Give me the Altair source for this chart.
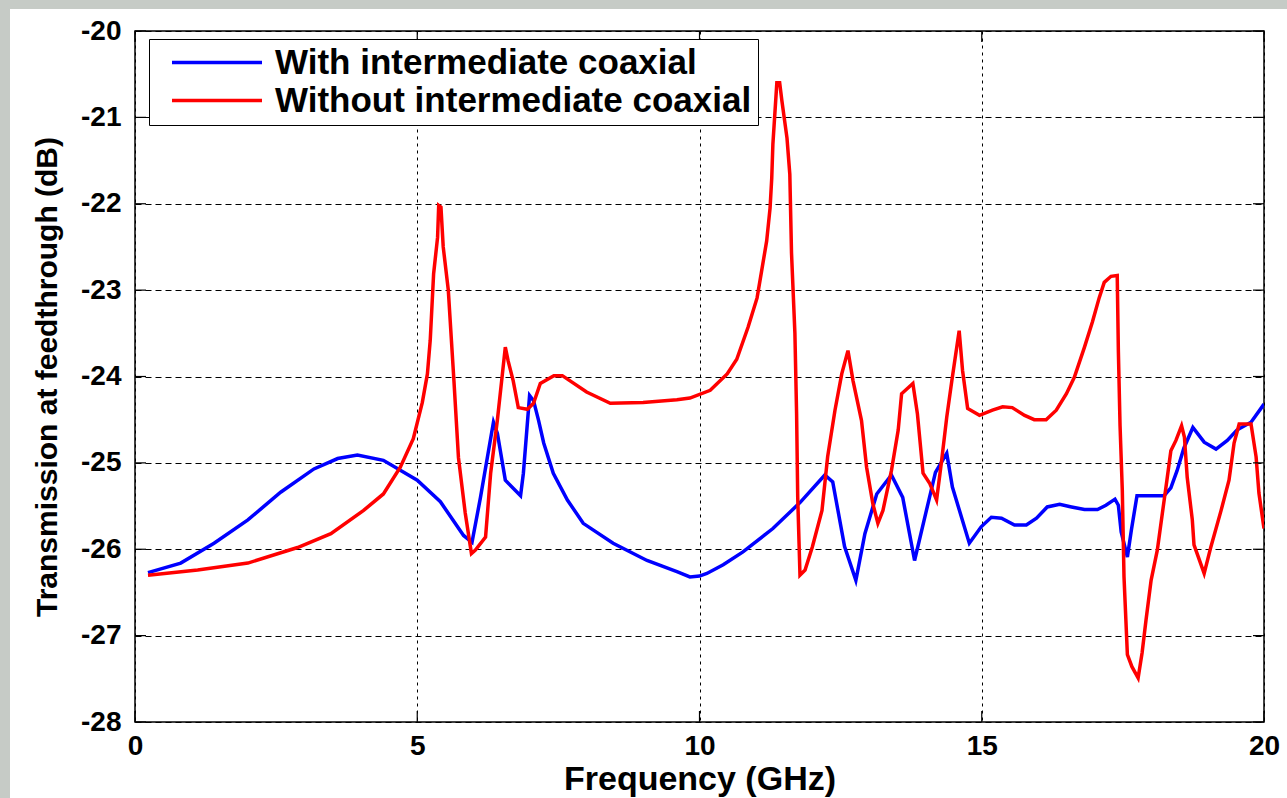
import altair as alt
import pandas as pd

# Transmission through the feedthrough, with the intermediate coaxial section
with_freq = [0.23, 0.81, 1.4, 2.0, 2.58, 3.17, 3.59, 3.94, 4.4, 5.0, 5.41, 5.82, 5.97,
             6.12, 6.35, 6.42, 6.56, 6.83, 6.88, 6.99, 7.06, 7.15, 7.24, 7.41, 7.66,
             7.94, 8.47, 9.07, 9.6, 9.83, 10.0, 10.13, 10.42, 10.77, 11.3, 11.78, 12.22,
             12.36, 12.57, 12.77, 12.93, 13.14, 13.4, 13.6, 13.81, 14.02, 14.18, 14.38,
             14.48, 14.78, 14.99, 15.17, 15.35, 15.58, 15.79, 15.97, 16.16, 16.38,
             16.59, 16.82, 17.05, 17.2, 17.36, 17.42, 17.47, 17.58, 17.65, 17.75,
             18.05, 18.23, 18.35, 18.46, 18.58, 18.74, 18.94, 19.15, 19.35, 19.52,
             19.77, 20.0]
with_db = [-26.27, -26.16, -25.93, -25.66, -25.34, -25.07, -24.95, -24.91, -24.97, -25.2,
           -25.45, -25.84, -25.92, -25.4, -24.53, -24.66, -25.2, -25.38, -25.12, -24.22,
           -24.28, -24.51, -24.77, -25.12, -25.43, -25.7, -25.93, -26.13, -26.26, -26.32,
           -26.31, -26.28, -26.18, -26.03, -25.76, -25.46, -25.14, -25.22, -25.97, -26.36,
           -25.82, -25.36, -25.14, -25.4, -26.13, -25.55, -25.11, -24.89, -25.28, -25.93,
           -25.74, -25.63, -25.64, -25.72, -25.72, -25.64, -25.51, -25.48, -25.51, -25.54,
           -25.54, -25.49, -25.42, -25.49, -25.8, -26.09, -25.78, -25.38, -25.38, -25.38,
           -25.29, -25.09, -24.83, -24.59, -24.76, -24.84, -24.74, -24.62, -24.53, -24.32]

# Transmission through the feedthrough, without the intermediate coaxial section
without_freq = [0.23, 1.11, 2.0, 2.88, 3.47, 4.05, 4.4, 4.7, 4.93, 5.09, 5.18, 5.23, 5.29,
                5.36, 5.38, 5.42, 5.46, 5.55, 5.65, 5.73, 5.85, 5.96, 6.03, 6.21, 6.3,
                6.42, 6.56, 6.61, 6.7, 6.79, 6.95, 7.06, 7.18, 7.42, 7.57, 8.0, 8.42, 9.0,
                9.6, 9.83, 10.19, 10.49, 10.66, 10.86, 11.02, 11.1, 11.19, 11.25, 11.28,
                11.3, 11.37, 11.42, 11.46, 11.55, 11.6, 11.63, 11.69, 11.72, 11.74, 11.78,
                11.87, 12.0, 12.17, 12.27, 12.4, 12.52, 12.63, 12.72, 12.87, 12.96, 13.07,
                13.16, 13.25, 13.4, 13.52, 13.58, 13.78, 13.86, 13.96, 14.08, 14.2, 14.29,
                14.38, 14.47, 14.6, 14.66, 14.75, 14.96, 15.19, 15.37, 15.54, 15.76, 15.93,
                16.14, 16.32, 16.5, 16.64, 16.82, 16.96, 17.08, 17.17, 17.29, 17.4, 17.42,
                17.45, 17.49, 17.52, 17.58, 17.66, 17.77, 17.84, 17.91, 18.0, 18.11, 18.2,
                18.28, 18.35, 18.44, 18.54, 18.59, 18.64, 18.73, 18.76, 18.94, 19.06,
                19.24, 19.38, 19.47, 19.56, 19.77, 19.86, 19.91, 20.0]
without_db = [-26.3, -26.24, -26.16, -25.98, -25.82, -25.55, -25.36, -25.05, -24.72, -24.3,
              -23.97, -23.58, -22.81, -22.39, -22.02, -22.04, -22.5, -23.0, -24.05, -24.94,
              -25.58, -26.05, -26.01, -25.86, -25.12, -24.5, -23.66, -23.82, -24.05, -24.36,
              -24.38, -24.31, -24.08, -23.99, -23.99, -24.18, -24.31, -24.3, -24.27, -24.25,
              -24.16, -23.97, -23.8, -23.43, -23.09, -22.78, -22.43, -22.05, -21.7, -21.31,
              -20.6, -20.6, -20.81, -21.24, -21.66, -22.57, -23.5, -24.43, -25.4, -26.3,
              -26.24, -25.97, -25.55, -24.93, -24.39, -23.97, -23.7, -24.05, -24.51, -25.05,
              -25.47, -25.7, -25.55, -25.09, -24.62, -24.2, -24.08, -24.43, -25.12, -25.24,
              -25.43, -24.97, -24.47, -24.05, -23.47, -23.93, -24.37, -24.45, -24.39, -24.35,
              -24.36, -24.45, -24.5, -24.5, -24.39, -24.2, -24.01, -23.66, -23.37, -23.09,
              -22.91, -22.84, -22.83, -23.7, -24.57, -25.32, -26.32, -27.22, -27.36, -27.49,
              -27.2, -26.82, -26.36, -26.01, -25.58, -25.2, -24.86, -24.74, -24.57, -24.7,
              -25.17, -25.66, -25.95, -26.28, -25.97, -25.55, -25.2, -24.77, -24.55,
              -24.55, -24.93, -25.35, -25.76]

series_names = ["With intermediate coaxial", "Without intermediate coaxial"]
series_colors = ["#0000ff", "#ff0000"]

x_ticks = [0, 5, 10, 15, 20]
y_ticks = [-28, -27, -26, -25, -24, -23, -22, -21, -20]

W, H = 1129, 691
PAD_L, PAD_T, PAD_R, PAD_B = 135, 31, 23, 76
TICK = 11
FONT = "Liberation Sans"

rows = []
for name, fs, ds in [(series_names[0], with_freq, with_db),
                     (series_names[1], without_freq, without_db)]:
    for i, (f, d) in enumerate(zip(fs, ds)):
        rows.append({"series": name, "order": i, "freq": f, "db": d})
df = pd.DataFrame(rows)

x_scale = alt.Scale(domain=[0, 20], nice=False, zero=False)
y_scale = alt.Scale(domain=[-28, -20], nice=False, zero=False)

# grey page edges around the white figure
one = pd.DataFrame({"p": [0]})
edge_top = alt.Chart(one).mark_rect(color="#c6cbc6").encode(
    x=alt.value(-PAD_L), x2=alt.value(W + PAD_R), y=alt.value(-PAD_T), y2=alt.value(-PAD_T + 9)
)
edge_left = alt.Chart(one).mark_rect(color="#c6cbc6").encode(
    x=alt.value(-PAD_L), x2=alt.value(-PAD_L + 10), y=alt.value(-PAD_T), y2=alt.value(H + PAD_B)
)

# plain ASCII hyphen for negative tick labels
plain_label = "'' + datum.value"

lines = alt.Chart(df).mark_line(strokeWidth=3.5, clip=True).encode(
    x=alt.X("freq:Q", scale=x_scale,
            axis=alt.Axis(values=x_ticks, title="Frequency (GHz)", labelExpr=plain_label,
                          gridDash=[3, 4], labelPadding=10, titlePadding=2,
                          titleFontSize=34)),
    y=alt.Y("db:Q", scale=y_scale,
            axis=alt.Axis(values=y_ticks, title="Transmission at feedthrough (dB)",
                          labelExpr=plain_label, gridDash=[6, 4], labelPadding=14,
                          titlePadding=18, titleFontSize=30)),
    color=alt.Color("series:N",
                    scale=alt.Scale(domain=series_names, range=series_colors),
                    legend=alt.Legend(title=None, orient="none", legendX=14, legendY=8,
                                      symbolType="M-0.04,0H7.16", symbolSize=625,
                                      symbolStrokeWidth=3.5, labelFontSize=35,
                                      labelFont=FONT, labelFontWeight="bold",
                                      labelColor="black", labelOffset=85,
                                      strokeColor="black", fillColor="white",
                                      padding=6, rowPadding=2,
                                      labelLimit=900)),
    order="order:Q",
)

ytick_df = pd.DataFrame({"v": y_ticks})
xtick_df = pd.DataFrame({"v": x_ticks})

y_left = alt.Chart(ytick_df).mark_rule(color="black", strokeWidth=1.2).encode(
    y=alt.Y("v:Q", scale=y_scale), x=alt.value(0), x2=alt.value(TICK))
y_right = alt.Chart(ytick_df).mark_rule(color="black", strokeWidth=1.2).encode(
    y=alt.Y("v:Q", scale=y_scale), x=alt.value(W - TICK), x2=alt.value(W))
x_bottom = alt.Chart(xtick_df).mark_rule(color="black", strokeWidth=1.2).encode(
    x=alt.X("v:Q", scale=x_scale), y=alt.value(H - TICK), y2=alt.value(H))
x_top = alt.Chart(xtick_df).mark_rule(color="black", strokeWidth=1.2).encode(
    x=alt.X("v:Q", scale=x_scale), y=alt.value(0), y2=alt.value(TICK))

chart = alt.layer(edge_top, edge_left, lines, y_left, y_right, x_bottom, x_top).properties(
    width=W, height=H,
    autosize=alt.AutoSizeParams(type="none"),
    padding={"left": PAD_L, "top": PAD_T, "right": PAD_R, "bottom": PAD_B},
    background="white",
).configure_view(
    stroke="black", strokeWidth=1.5, fill="white"
).configure_axis(
    domain=False, ticks=False, grid=True, gridColor="black", gridOpacity=1,
    gridWidth=1, labelFont=FONT, labelFontSize=28, labelFontWeight="bold",
    labelColor="black", titleFont=FONT, titleFontWeight="bold",
    titleColor="black",
).configure_axisX(
    labelFlush=False
)

chart.save("out.html", embed_options={"renderer": "svg", "actions": False})
